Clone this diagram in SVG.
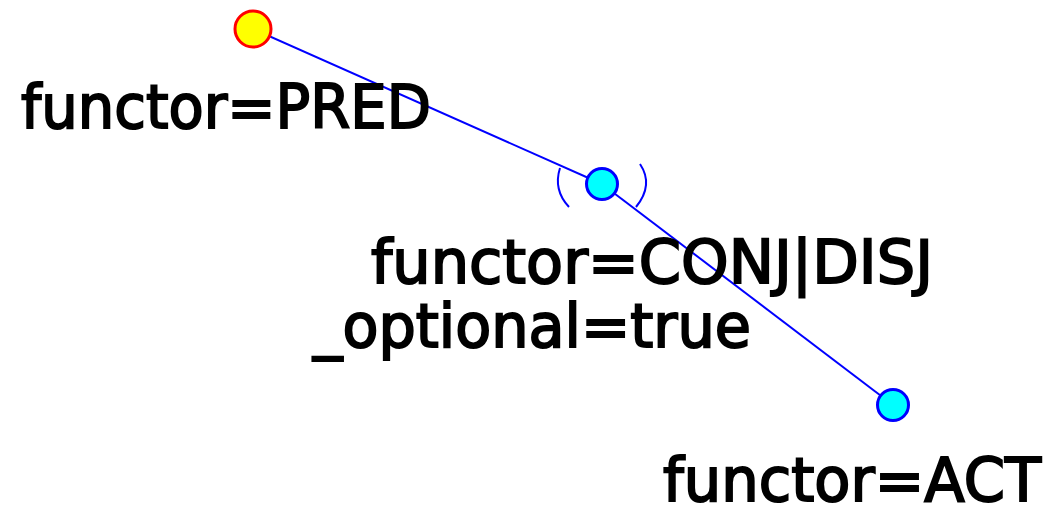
<svg xmlns="http://www.w3.org/2000/svg" width="1049" height="508" viewBox="0 0 1049 508">
<style>
.edge{stroke:#0000ff;stroke-width:2;fill:none}
.lbl{font-family:"DejaVu Sans","Liberation Sans",sans-serif;font-size:60px;fill:#000;stroke:#000;stroke-width:2}
.root{fill:#ffff00;stroke:#ff0000;stroke-width:3}
.node{fill:#00ffff;stroke:#0000ff;stroke-width:3}
</style>
<rect width="1049" height="508" fill="#fff"/>
<g id="connectors">
<line class="edge" x1="253" y1="29" x2="602" y2="184"/>
<line class="edge" x1="602" y1="184" x2="893" y2="405"/>
</g>
<g id="node-pred">
<circle class="root" cx="253" cy="29" r="18"/>
<text class="lbl" x="21" y="128" textLength="410" lengthAdjust="spacingAndGlyphs">functor=PRED</text>
</g>
<g id="node-conj">
<path class="edge" d="M560 168 Q553 190 569 207"/>
<path class="edge" d="M640 164 Q654 185 636 207"/>
<circle class="node" cx="602" cy="184" r="15.5"/>
<text class="lbl" x="371" y="283" textLength="562" lengthAdjust="spacingAndGlyphs">functor=CONJ|DISJ</text>
<text class="lbl" x="313" y="347" textLength="438" lengthAdjust="spacingAndGlyphs">_optional=true</text>
</g>
<g id="node-act">
<circle class="node" cx="893" cy="405" r="15.5"/>
<text class="lbl" x="663" y="501" textLength="378" lengthAdjust="spacingAndGlyphs">functor=ACT</text>
</g>
</svg>
